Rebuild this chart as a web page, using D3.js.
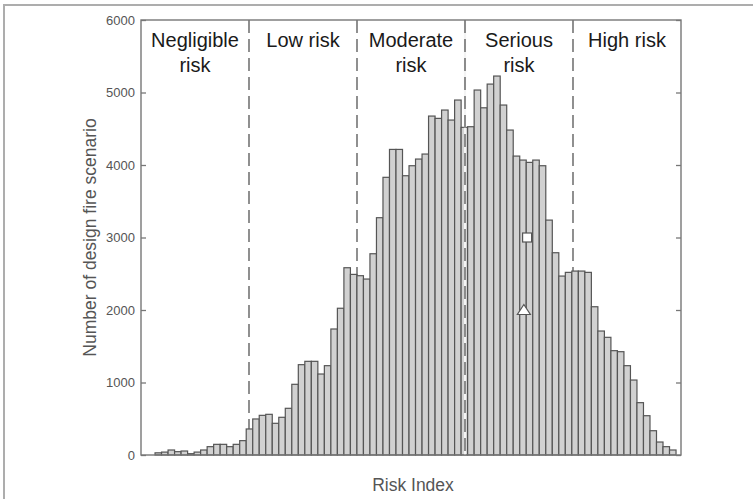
<!DOCTYPE html>
<html>
<head>
<meta charset="utf-8">
<script src="https://cdn.jsdelivr.net/npm/d3@7"></script>
<style>
  html, body { margin: 0; padding: 0; background: #fff; }
  svg { display: block; font-family: "Liberation Sans", Arial, sans-serif; }
</style>
</head>
<body>
<svg id="chart" width="753" height="499"></svg>
<script>
// Histogram of design fire scenarios over the risk index
const scenarioCounts = [
  30, 40, 69, 46, 55, 18, 40, 69, 115, 147,
  147, 115, 147, 198, 359, 497, 547, 561, 437, 520,
  644, 975, 1246, 1292, 1292, 1117, 1232, 1738, 2024, 2583,
  2491, 2473, 2427, 2776, 3273, 3830, 4215, 4215, 3852, 3990,
  4082, 4151, 4675, 4643, 4758, 4620, 4896, 4519, 4528, 5034,
  4789, 5116, 5227, 4827, 4482, 4123, 4068, 4036, 4068, 3990,
  3240, 2790, 2468, 2519, 2537, 2537, 2519, 2045, 1710, 1623,
  1439, 1425, 1232, 1034, 722, 542, 335, 179, 115, 69
];
const binStart = 2.6;      // risk index where the first bin begins
const binWidth = 1.206;    // width of one bin in risk index units
const riskExtent = [0, 100];
const categoryBounds = [20, 40, 60, 80];
const categoryNames = [["Negligible", "risk"], ["Low risk"], ["Moderate", "risk"], ["Serious", "risk"], ["High risk"]];
const categoryCentres = [10, 30, 50, 70, 90];
const yTicks = [0, 1000, 2000, 3000, 4000, 5000, 6000];
const markerRisk = [71.5, 70.9];
const markerValue = [3000, 2000];
const markerShape = ["square", "triangle"];

const svg = d3.select("#chart");
const m = { left: 141, right: 681, top: 20, bottom: 455 };

const x = d3.scaleLinear().domain(riskExtent).range([m.left, m.right]);
const y = d3.scaleLinear().domain([0, 6000]).range([m.bottom, m.top]);

// outer frame
svg.append("path")
  .attr("d", "M4,499 V5 H753")
  .attr("fill", "none").attr("stroke", "#adadad").attr("stroke-width", 2);

// category separators
const sep = svg.append("g");
sep.selectAll("line").data(categoryBounds).join("line")
  .attr("x1", d => x(d)).attr("x2", d => x(d))
  .attr("y1", m.top).attr("y2", m.bottom)
  .attr("stroke", "#555").attr("stroke-width", 1.3)
  .attr("stroke-dasharray", "13,6");

// bars
const bins = scenarioCounts.map((v, i) => ({ x0: binStart + i * binWidth, x1: binStart + (i + 1) * binWidth, v }));
svg.append("g").selectAll("rect").data(bins).join("rect")
  .attr("x", d => x(d.x0)).attr("width", d => x(d.x1) - x(d.x0))
  .attr("y", d => y(d.v)).attr("height", d => y(0) - y(d.v))
  .attr("fill", "#d1d1d1").attr("stroke", "#555").attr("stroke-width", 1.2);

// the central separator stays visible across the bars
const mid = categoryBounds[2];
svg.append("line")
  .attr("x1", x(mid)).attr("x2", x(mid)).attr("y1", m.top).attr("y2", m.bottom)
  .attr("stroke", "#f4f4f4").attr("stroke-width", 2.2);
svg.append("line")
  .attr("x1", x(mid)).attr("x2", x(mid)).attr("y1", m.top).attr("y2", m.bottom)
  .attr("stroke", "#555").attr("stroke-width", 1.3).attr("stroke-dasharray", "13,6");

// plot box
svg.append("rect")
  .attr("x", m.left).attr("y", m.top)
  .attr("width", m.right - m.left).attr("height", m.bottom - m.top)
  .attr("fill", "none").attr("stroke", "#777").attr("stroke-width", 1.4);

// y axis, ticks pointing inward on both sides
const yAxisL = d3.axisRight(y).tickValues(yTicks).tickSize(5).tickFormat("");
svg.append("g").attr("transform", `translate(${m.left},0)`).call(yAxisL)
  .call(g => g.select(".domain").remove())
  .call(g => g.selectAll("line").attr("stroke", "#777").attr("stroke-width", 1.3));
const yAxisR = d3.axisLeft(y).tickValues(yTicks).tickSize(5).tickFormat("");
svg.append("g").attr("transform", `translate(${m.right},0)`).call(yAxisR)
  .call(g => g.select(".domain").remove())
  .call(g => g.selectAll("line").attr("stroke", "#777").attr("stroke-width", 1.3));

svg.append("g").selectAll("text").data(yTicks).join("text")
  .attr("x", m.left - 6).attr("y", d => y(d))
  .attr("dy", "0.35em").attr("text-anchor", "end")
  .attr("font-size", 13).attr("fill", "#555")
  .text(d => d);

// markers
const mk = svg.append("g");
markerRisk.forEach((r, i) => {
  const cx = x(r), cy = y(markerValue[i]);
  if (markerShape[i] === "square") {
    mk.append("rect").attr("x", cx - 4.5).attr("y", cy - 4.5).attr("width", 9).attr("height", 9)
      .attr("fill", "#fff").attr("stroke", "#555").attr("stroke-width", 1.2);
  } else {
    mk.append("path").attr("d", `M${cx},${cy - 5.5} L${cx + 6.5},${cy + 4.5} L${cx - 6.5},${cy + 4.5} Z`)
      .attr("fill", "#fff").attr("stroke", "#555").attr("stroke-width", 1.2);
  }
});

// category titles
const titles = svg.append("g").attr("font-size", 20).attr("fill", "#1a1a1a").attr("text-anchor", "middle");
categoryNames.forEach((lines, i) => {
  lines.forEach((t, j) => {
    titles.append("text").attr("x", x(categoryCentres[i])).attr("y", 47 + j * 25).text(t);
  });
});

// axis titles
svg.append("text")
  .attr("transform", `translate(96,${(m.top + m.bottom) / 2}) rotate(-90)`)
  .attr("text-anchor", "middle").attr("font-size", 17.5).attr("fill", "#555")
  .text("Number of design fire scenario");
svg.append("text")
  .attr("x", (m.left + m.right) / 2 + 2).attr("y", 491)
  .attr("text-anchor", "middle").attr("font-size", 17.5).attr("fill", "#555")
  .text("Risk Index");
</script>
</body>
</html>
